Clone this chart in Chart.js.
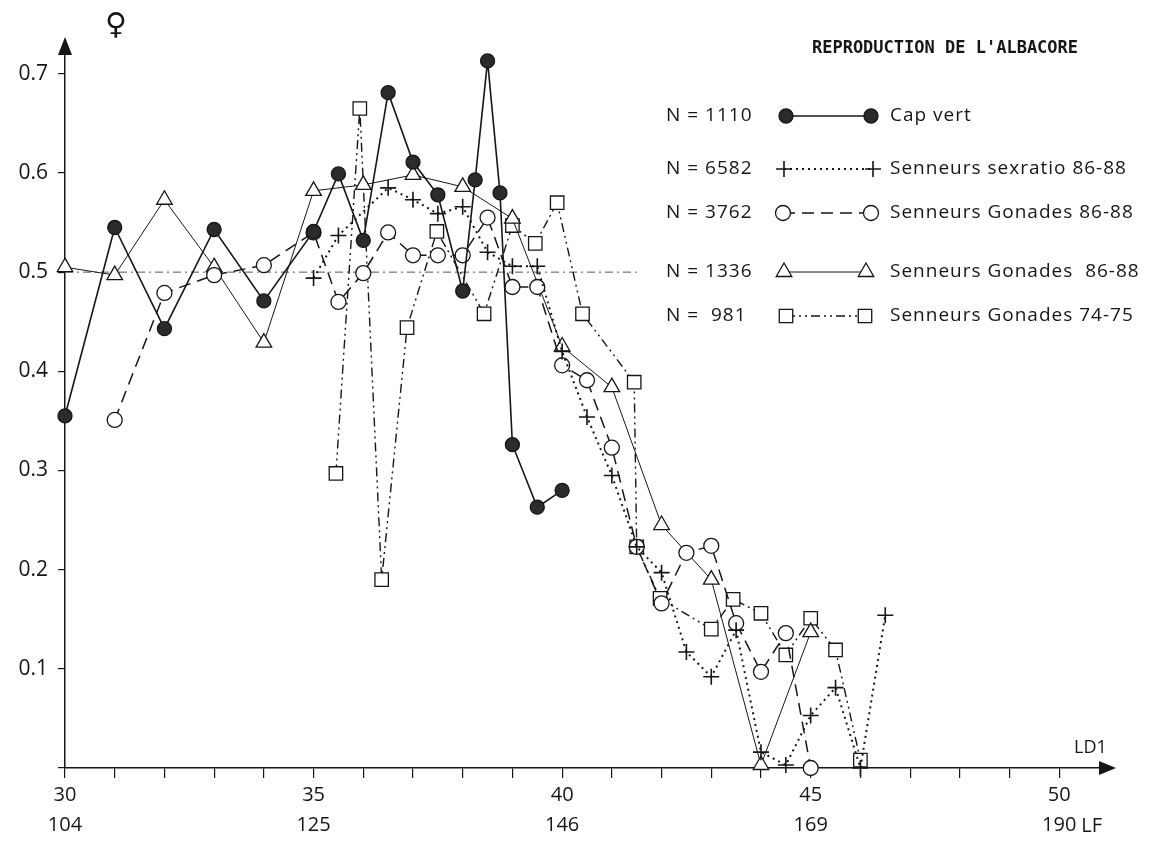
<!DOCTYPE html>
<html>
<head>
<meta charset="utf-8">
<title>Reproduction de l'albacore</title>
<script src="https://cdn.jsdelivr.net/npm/chart.js"></script>
<style>
  html, body { margin: 0; padding: 0; background: #fff; }
  #wrap { position: relative; width: 1161px; height: 845px; }
</style>
</head>
<body>
<div id="wrap"><canvas id="chart"></canvas></div>
<script>
// axis labels: LD1 values and the matching fork lengths (LF)
const ldLabels = [30, 35, 40, 45, 50];
const lfLabels = ["104", "125", "146", "169", "190"];

// N = 1110, Cap vert
const capX = [30, 31, 32, 33, 34, 35, 35.5, 36, 36.5, 37, 37.5, 38, 38.25, 38.5, 38.75, 39, 39.5, 40];
const capY = [0.355, 0.545, 0.443, 0.543, 0.471, 0.541, 0.599, 0.532, 0.681, 0.611, 0.578, 0.481, 0.593, 0.713, 0.580, 0.326, 0.263, 0.280];

// N = 6582, Senneurs sexratio 86-88
const sexX = [35, 35.5, 36.5, 37, 37.5, 38, 38.5, 39, 39.5, 40, 40.5, 41, 41.5, 42, 42.5, 43, 43.5, 44, 44.5, 45, 45.5, 46, 46.5];
const sexY = [0.494, 0.537, 0.585, 0.573, 0.559, 0.566, 0.520, 0.506, 0.506, 0.420, 0.354, 0.295, 0.223, 0.197, 0.117, 0.092, 0.139, 0.016, 0.003, 0.053, 0.081, 0.0, 0.154];

// N = 3762, Senneurs Gonades 86-88 (circles)
const gonX = [31, 32, 33, 34, 35, 35.5, 36, 36.5, 37, 37.5, 38, 38.5, 39, 39.5, 40, 40.5, 41, 41.5, 42, 42.5, 43, 43.5, 44, 44.5, 45];
const gonY = [0.351, 0.479, 0.497, 0.507, 0.540, 0.470, 0.499, 0.540, 0.517, 0.517, 0.517, 0.555, 0.485, 0.485, 0.406, 0.391, 0.323, 0.223, 0.166, 0.217, 0.224, 0.146, 0.097, 0.136, 0.0];

// N = 1336, Senneurs Gonades 86-88 (triangles)
const triX = [30, 31, 32, 33, 34, 35, 36, 37, 38, 39, 40, 41, 42, 43, 44, 45];
const triY = [0.505, 0.497, 0.573, 0.505, 0.429, 0.582, 0.588, 0.598, 0.586, 0.554, 0.425, 0.384, 0.245, 0.190, 0.003, 0.137];

// N = 981, Senneurs Gonades 74-75 (squares)
const sqX = [35.45, 35.93, 36.37, 36.88, 37.48, 38.43, 39, 39.46, 39.9, 40.41, 41.45, 41.5, 41.97, 43, 43.44, 44, 44.5, 45, 45.5, 46];
const sqY = [0.297, 0.665, 0.190, 0.444, 0.541, 0.458, 0.547, 0.529, 0.570, 0.458, 0.389, 0.223, 0.171, 0.140, 0.170, 0.156, 0.114, 0.151, 0.119, 0.008];

// 50 % reference line
const refX = [30, 41.5];
const refY = [0.5, 0.5];

const legendN = ["1110", "6582", "3762", "1336", " 981"];
const legendNames = ["Cap vert", "Senneurs sexratio 86-88", "Senneurs Gonades 86-88",
                     "Senneurs Gonades  86-88", "Senneurs Gonades 74-75"];

const FONT = "'Open Sans', 'DejaVu Sans', sans-serif";
const INK = "#161616";

const pts = (xs, ys) => xs.map((x, i) => ({ x: x, y: ys[i] }));

function series(label, xs, ys, style) {
  return Object.assign({
    label: label,
    data: pts(xs, ys),
    borderColor: INK,
    pointBorderColor: INK,
    pointBackgroundColor: "#fff",
    pointBorderWidth: 1.3,
    tension: 0,
    clip: false
  }, style);
}

const datasets = [
  series(legendNames[0], capX, capY, {
    borderWidth: 1.6, pointStyle: "circle", pointRadius: 7,
    pointBackgroundColor: "#2b2b2b"
  }),
  series(legendNames[1], sexX, sexY, {
    borderWidth: 2, borderDash: [2, 4], pointStyle: "cross", pointRadius: 8,
    pointBorderWidth: 1.6
  }),
  series(legendNames[2], gonX, gonY, {
    borderWidth: 1.5, borderDash: [12, 7], pointStyle: "circle", pointRadius: 7.5
  }),
  series(legendNames[3], triX, triY, {
    borderWidth: 1, pointStyle: "triangle", pointRadius: 9
  }),
  series(legendNames[4], sqX, sqY, {
    borderWidth: 1.4, borderDash: [9, 4, 2, 4, 2, 4], pointStyle: "rect", pointRadius: 9.5
  }),
  {
    label: "ref", data: pts(refX, refY), borderColor: "#555", borderWidth: 1,
    borderDash: [8, 4, 2, 4], pointRadius: 0, clip: false
  }
];

// legend rows, drawn like the hand-made key of the original figure
const legendLayout = [
  { y: 116, a: 786, b: 871 },
  { y: 169, a: 784, b: 873 },
  { y: 213, a: 783, b: 871 },
  { y: 272, a: 784, b: 866 },
  { y: 316, a: 786, b: 865 }
];

const paper = {
  id: "paper",
  afterDraw(chart) {
    const ctx = chart.ctx;
    const { left, right, top, bottom } = chart.chartArea;
    ctx.save();
    ctx.fillStyle = INK;
    ctx.strokeStyle = INK;

    // arrow heads on both axes
    ctx.beginPath();
    ctx.moveTo(left, top - 12);
    ctx.lineTo(left - 7, top + 6);
    ctx.lineTo(left + 7, top + 6);
    ctx.closePath();
    ctx.fill();
    ctx.beginPath();
    ctx.moveTo(right + 12, bottom);
    ctx.lineTo(right - 5, bottom - 7);
    ctx.lineTo(right - 5, bottom + 7);
    ctx.closePath();
    ctx.fill();

    ctx.textBaseline = "middle";
    ctx.textAlign = "left";
    ctx.font = "18px " + FONT;
    ctx.fillText("LD1", right - 30, bottom - 20);
    ctx.font = "20px " + FONT;
    ctx.fillText("LF", chart.scales.x.getPixelForValue(50) + 22, 826);

    ctx.font = "30px 'DejaVu Sans', sans-serif";
    ctx.textAlign = "center";
    ctx.fillText("\u2640", 116, 26);

    ctx.font = "bold 17px 'DejaVu Sans Mono', monospace";
    ctx.fillText("REPRODUCTION DE L'ALBACORE", 945, 49);

    ctx.textAlign = "left";
    ctx.font = "19px " + FONT;
    ctx.letterSpacing = "1px";
    legendLayout.forEach((row, i) => {
      const ds = chart.data.datasets[i];
      ctx.fillStyle = INK;
      ctx.fillText("N = " + legendN[i], 666, row.y);
      ctx.fillText(legendNames[i], 890, row.y);
      ctx.lineWidth = ds.borderWidth;
      ctx.setLineDash(ds.borderDash || []);
      ctx.beginPath();
      ctx.moveTo(row.a, row.y);
      ctx.lineTo(row.b, row.y);
      ctx.stroke();
      ctx.setLineDash([]);
      ctx.lineWidth = ds.pointBorderWidth;
      ctx.fillStyle = ds.pointBackgroundColor;
      const opts = { pointStyle: ds.pointStyle, radius: ds.pointRadius, rotation: 0, borderWidth: ds.pointBorderWidth };
      Chart.helpers.drawPoint(ctx, opts, row.a, row.y);
      Chart.helpers.drawPoint(ctx, opts, row.b, row.y);
    });
    ctx.restore();
  }
};

new Chart(document.getElementById("chart"), {
  type: "line",
  data: { datasets: datasets },
  plugins: [paper],
  options: {
    responsive: true,
    maintainAspectRatio: false,
    animation: false,
    layout: { padding: { top: 49, right: 57, left: 0, bottom: 0 } },
    plugins: { legend: { display: false }, tooltip: { enabled: false } },
    scales: {
      x: {
        type: "linear",
        min: 30,
        max: 50.9,
        afterFit(scale) { scale.height = 77; },
        border: { color: INK, width: 1.5 },
        grid: { drawOnChartArea: false, drawTicks: true, tickLength: 10, color: INK, lineWidth: 1.2 },
        ticks: {
          stepSize: 1,
          autoSkip: false,
          includeBounds: false,
          maxRotation: 0,
          padding: 2,
          color: INK,
          font: { family: FONT, size: 20, lineHeight: 1.5 },
          callback(value) {
            const i = ldLabels.indexOf(value);
            return i < 0 ? "" : [String(ldLabels[i]), lfLabels[i]];
          }
        }
      },
      y: {
        min: 0,
        max: 0.725,
        afterFit(scale) { scale.width = 65; },
        border: { color: INK, width: 1.5 },
        grid: { drawOnChartArea: false, drawTicks: true, tickLength: 7, color: INK, lineWidth: 1.2 },
        ticks: {
          stepSize: 0.1,
          includeBounds: false,
          padding: 10,
          color: INK,
          font: { family: FONT, size: 21 },
          callback(value) { return value === 0 ? "" : value.toFixed(1); }
        }
      }
    }
  }
});
</script>
</body>
</html>
